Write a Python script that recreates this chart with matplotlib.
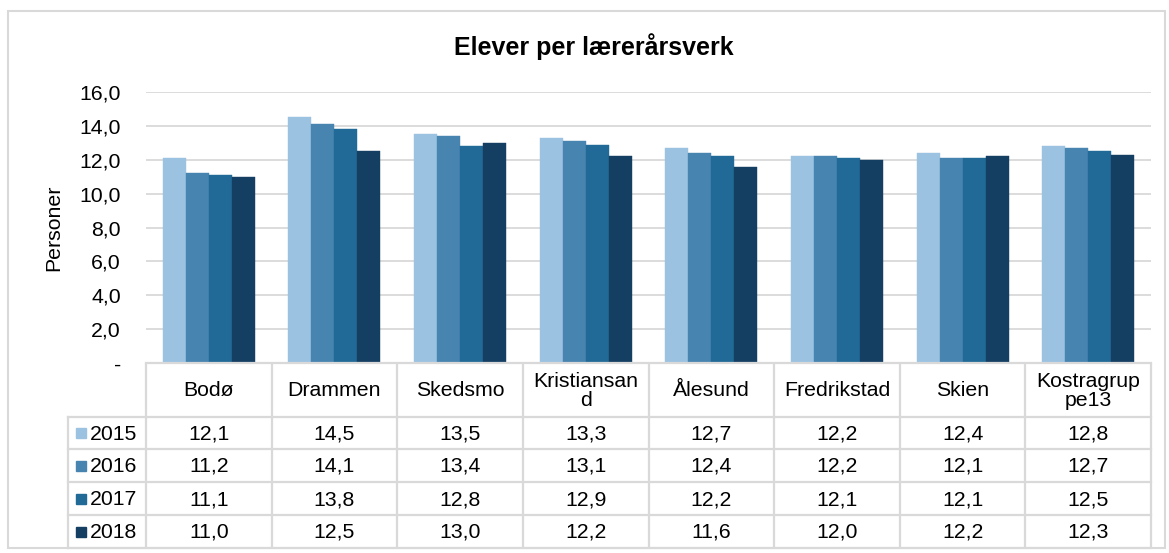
import matplotlib
matplotlib.use("Agg")
import matplotlib.pyplot as plt
import numpy as np

plt.rcParams['font.family'] = ['Liberation Sans', 'DejaVu Sans']

categories = ["Bodø", "Drammen", "Skedsmo", "Kristiansan\nd", "Ålesund",
              "Fredrikstad", "Skien", "Kostragrup\npe13"]
years = ["2015", "2016", "2017", "2018"]
v2015 = [12.1, 14.5, 13.5, 13.3, 12.7, 12.2, 12.4, 12.8]
v2016 = [11.2, 14.1, 13.4, 13.1, 12.4, 12.2, 12.1, 12.7]
v2017 = [11.1, 13.8, 12.8, 12.9, 12.2, 12.1, 12.1, 12.5]
v2018 = [11.0, 12.5, 13.0, 12.2, 11.6, 12.0, 12.2, 12.3]
series = [v2015, v2016, v2017, v2018]
colors = ["#9BC3E1", "#4884B0", "#216A97", "#153F62"]
yticks = [0, 2, 4, 6, 8, 10, 12, 14, 16]

W, H = 1169, 553
fig = plt.figure(figsize=(W / 100, H / 100), dpi=100)

FS = 15.3

# pixel geometry
L, R = 146, 1151
TOP, BOT = 92, 363
grid_c = "#D9D9D9"

ax = fig.add_axes([L / W, 1 - BOT / H, (R - L) / W, (BOT - TOP) / H])
n = len(categories)
x = np.arange(n)
bw = 0.183
for i, (vals, c) in enumerate(zip(series, colors)):
    ax.bar(x + (i - 1.5) * bw, vals, width=bw, color=c, zorder=3,
           edgecolor=c, linewidth=0.3)
ax.set_xlim(-0.5, n - 0.5)
ax.set_ylim(0, 16)
ax.set_yticks(yticks)
ax.set_yticklabels([("-" if t == 0 else f"{t:.1f}".replace(".", ",")) for t in yticks],
                   fontsize=FS)
ax.yaxis.grid(True, color=grid_c, linewidth=1.3, zorder=0)
ax.set_xticks([])
for s in ax.spines.values():
    s.set_visible(False)
ax.tick_params(axis='y', length=0, pad=18)
ax.set_ylabel("Personer", fontsize=FS, labelpad=12)

# overlay for table, title, border
ov = fig.add_axes([0, 0, 1, 1], zorder=-1)
ov.set_xlim(0, W)
ov.set_ylim(H, 0)
ov.axis("off")
ov2 = fig.add_axes([0, 0, 1, 1], zorder=5)
ov2.set_xlim(0, W)
ov2.set_ylim(H, 0)
ov2.axis("off")
ov2.patch.set_alpha(0)

# outer border
ov.add_patch(plt.Rectangle((7.5, 10.5), 1157, 537, fill=False, edgecolor=grid_c, linewidth=1.5))
ov2.text(594, 47, "Elever per lærerårsverk", fontsize=18, fontweight="bold",
         ha="center", va="center")

# table
cw = (R - L) / n
row_y = [363, 417, 449, 482, 515, 548]
tleft = 68
lw = 1.6
for k in range(n + 1):
    xx = L + k * cw
    ov2.plot([xx, xx], [row_y[0], row_y[-1]], color=grid_c, lw=lw, solid_capstyle="butt")
ov2.plot([L, R], [row_y[0], row_y[0]], color=grid_c, lw=lw)
for yy in row_y[1:]:
    ov2.plot([tleft, R], [yy, yy], color=grid_c, lw=lw)
ov2.plot([tleft, tleft], [row_y[1], row_y[-1]], color=grid_c, lw=lw)

for k, cat in enumerate(categories):
    ov2.text(L + (k + 0.5) * cw, (row_y[0] + row_y[1]) / 2 + 1, cat, fontsize=FS,
             ha="center", va="center", linespacing=0.95)
for r, (yr, vals, c) in enumerate(zip(years, series, colors)):
    yc = (row_y[r + 1] + row_y[r + 2]) / 2
    ov2.add_patch(plt.Rectangle((76, yc - 5), 10, 10, color=c))
    ov2.text(90, yc + 1, yr, fontsize=FS, ha="left", va="center")
    for k, v in enumerate(vals):
        ov2.text(L + (k + 0.5) * cw, yc + 1, f"{v:.1f}".replace(".", ","), fontsize=FS,
                 ha="center", va="center")

fig.savefig("out.png", dpi=100, facecolor="white")
